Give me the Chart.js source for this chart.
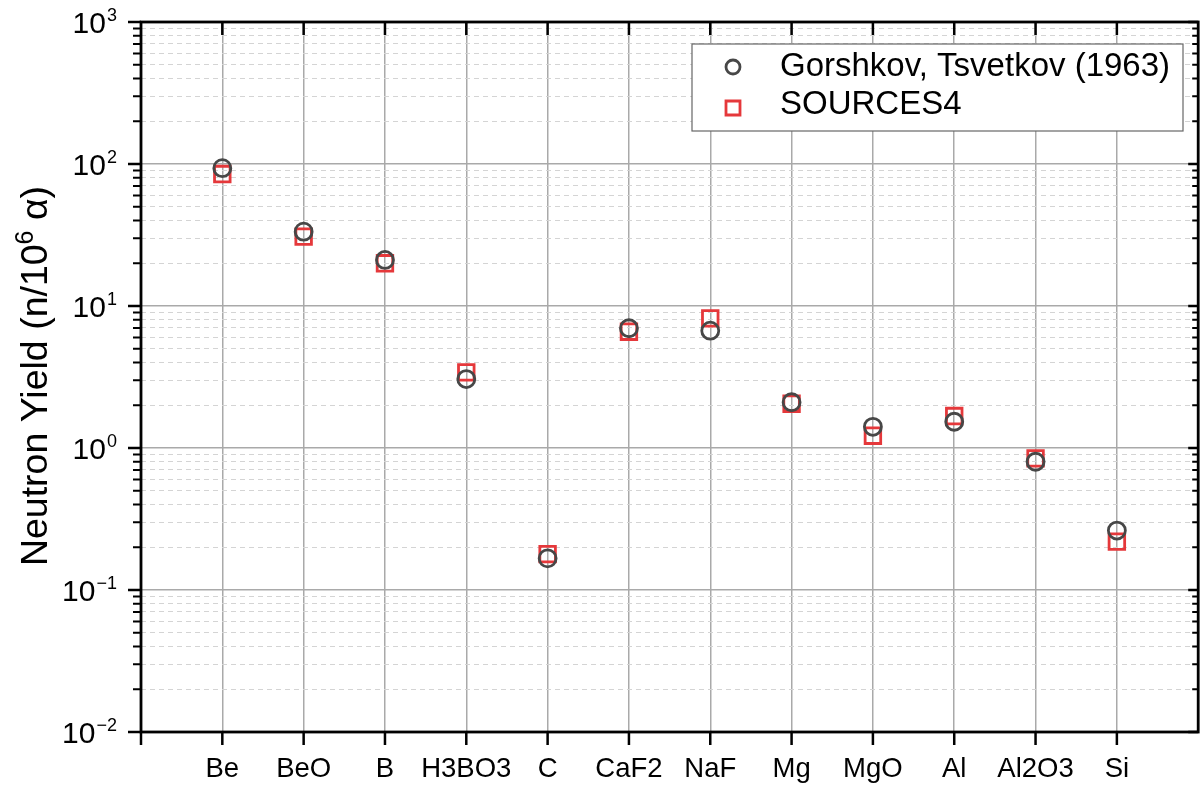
<!DOCTYPE html>
<html>
<head>
<meta charset="utf-8">
<title>Neutron Yield</title>
<script src="https://cdn.jsdelivr.net/npm/chart.js@4.4.1/dist/chart.umd.min.js"></script>
<style>
  html, body { margin: 0; padding: 0; background: #fff; overflow: hidden; }
  #wrap { width: 1212px; height: 787px; }
</style>
</head>
<body>
<div id="wrap"><canvas id="yieldChart" width="1212" height="787"></canvas></div>
<script>
const categories = ["Be", "BeO", "B", "H3BO3", "C", "CaF2", "NaF", "Mg", "MgO", "Al", "Al2O3", "Si"];
const gorshkovYield = [93.5, 33.4, 21.1, 3.06, 0.167, 6.97, 6.70, 2.10, 1.41, 1.53, 0.80, 0.262];
const sources4Yield = [85, 30.8, 20.0, 3.41, 0.179, 6.59, 8.19, 2.05, 1.22, 1.68, 0.846, 0.219];
const decadeTicks = [0.01, 0.1, 1, 10, 100, 1000];
const decadeExponents = ["\u22122", "\u22121", "0", "1", "2", "3"];

const FONT = "'Liberation Sans', Arial, Helvetica, sans-serif";

// 2..9 times each decade, for the dashed grid and the small axis ticks
const minorTicks = [];
decadeTicks.slice(0, -1).forEach((d) => {
  for (let m = 2; m <= 9; m++) minorTicks.push(d * m);
});

const toPoints = (values) => values.map((v, i) => ({ x: i + 1, y: v }));

const axisFrame = {
  id: "axisFrame",
  afterDraw(chart) {
    const { ctx, chartArea: a } = chart;
    const x = chart.scales.x;
    const y = chart.scales.y;

    ctx.save();
    ctx.strokeStyle = "#000";
    ctx.lineCap = "butt";

    // ticks along the y axes
    ctx.lineWidth = 2.5;
    decadeTicks.forEach((v) => {
      const py = y.getPixelForValue(v);
      ctx.beginPath();
      ctx.moveTo(a.left - 13, py); ctx.lineTo(a.left, py);
      ctx.moveTo(a.right - 10, py); ctx.lineTo(a.right, py);
      ctx.stroke();
    });
    ctx.lineWidth = 2;
    minorTicks.forEach((v) => {
      const py = y.getPixelForValue(v);
      ctx.beginPath();
      ctx.moveTo(a.left - 8, py); ctx.lineTo(a.left, py);
      ctx.moveTo(a.right - 6, py); ctx.lineTo(a.right, py);
      ctx.stroke();
    });

    // ticks along the x axes
    ctx.lineWidth = 2.5;
    for (let i = 0; i <= categories.length; i++) {
      const px = x.getPixelForValue(i);
      ctx.beginPath();
      ctx.moveTo(px, a.bottom); ctx.lineTo(px, a.bottom + 13);
      if (i > 0) { ctx.moveTo(px, a.top); ctx.lineTo(px, a.top + 13); }
      ctx.stroke();
    }

    // box around the plot
    ctx.lineWidth = 2.8;
    ctx.strokeRect(a.left, a.top, a.right - a.left, a.bottom - a.top);

    // y tick labels as 10 with a raised exponent
    ctx.fillStyle = "#000";
    ctx.textBaseline = "alphabetic";
    ctx.textAlign = "left";
    decadeTicks.forEach((v, i) => {
      const py = y.getPixelForValue(v);
      ctx.font = `18px ${FONT}`;
      const expW = ctx.measureText(decadeExponents[i]).width;
      ctx.font = `30px ${FONT}`;
      const baseW = ctx.measureText("10").width;
      const right = 117;
      ctx.fillText("10", right - expW - baseW - 1, py + 11);
      ctx.font = `18px ${FONT}`;
      ctx.fillText(decadeExponents[i], right - expW, py - 1);
    });

    // y axis title, rotated
    ctx.save();
    ctx.translate(47, 376);
    ctx.rotate(-Math.PI / 2);
    const partA = "Neutron Yield (n/10";
    const partB = "6";
    const partC = " \u03b1)";
    ctx.font = `37.5px ${FONT}`;
    const wA = ctx.measureText(partA).width;
    const wC = ctx.measureText(partC).width;
    ctx.font = `25px ${FONT}`;
    const wB = ctx.measureText(partB).width;
    let tx = -(wA + wB + wC) / 2;
    ctx.font = `37.5px ${FONT}`;
    ctx.fillText(partA, tx, 0);
    tx += wA;
    ctx.font = `25px ${FONT}`;
    ctx.fillText(partB, tx, -14);
    tx += wB;
    ctx.font = `37.5px ${FONT}`;
    ctx.fillText(partC, tx, 0);
    ctx.restore();

    // legend box
    const box = { left: 692, top: 44, right: 1183, bottom: 131 };
    ctx.fillStyle = "#fff";
    ctx.fillRect(box.left, box.top, box.right - box.left, box.bottom - box.top);
    ctx.strokeStyle = "#666";
    ctx.lineWidth = 1.2;
    ctx.strokeRect(box.left, box.top, box.right - box.left, box.bottom - box.top);

    const rows = [67, 108];
    chart.data.datasets.forEach((ds, i) => {
      const cy = rows[i];
      ctx.strokeStyle = ds.borderColor;
      ctx.lineWidth = ds.pointBorderWidth;
      ctx.beginPath();
      if (ds.pointStyle === "circle") {
        ctx.arc(733, cy, 7, 0, Math.PI * 2);
      } else {
        ctx.rect(733 - 7, cy - 7, 14, 14);
      }
      ctx.stroke();
      ctx.fillStyle = "#000";
      ctx.font = `33px ${FONT}`;
      ctx.fillText(ds.label, 780, cy + 9 + (i === 0 ? 0 : -3));
    });

    ctx.restore();
  }
};

new Chart(document.getElementById("yieldChart"), {
  type: "scatter",
  data: {
    datasets: [
      {
        label: "Gorshkov, Tsvetkov (1963)",
        data: toPoints(gorshkovYield),
        pointStyle: "circle",
        pointRadius: 8.5,
        pointBorderWidth: 2.8,
        borderColor: "#474747",
        backgroundColor: "rgba(0,0,0,0)"
      },
      {
        label: "SOURCES4",
        data: toPoints(sources4Yield),
        pointStyle: "rect",
        pointRadius: 11,
        pointBorderWidth: 2.8,
        borderColor: "#e5383b",
        backgroundColor: "rgba(0,0,0,0)"
      }
    ]
  },
  options: {
    responsive: false,
    animation: false,
    events: [],
    layout: { padding: { top: 22, right: 5, left: 0, bottom: 0 } },
    plugins: {
      legend: { display: false },
      tooltip: { enabled: false }
    },
    scales: {
      x: {
        type: "linear",
        position: "bottom",
        min: 0,
        max: categories.length + 1,
        afterBuildTicks: (scale) => {
          scale.ticks = categories.map((c, i) => ({ value: i + 1 }));
        },
        afterFit: (scale) => { scale.height = 55; },
        ticks: {
          autoSkip: false,
          maxRotation: 0,
          padding: 21,
          color: "#000",
          font: { family: FONT, size: 27.5 },
          callback: (v) => categories[v - 1] || ""
        },
        grid: { color: "#a9a9a9", lineWidth: 1.5, drawTicks: false },
        border: { display: false }
      },
      yMinor: {
        type: "logarithmic",
        position: "left",
        min: 0.01,
        max: 1000,
        afterBuildTicks: (scale) => {
          scale.ticks = minorTicks.map((v) => ({ value: v }));
        },
        afterFit: (scale) => { scale.width = 0; },
        ticks: { display: false },
        grid: { color: "#d4d4d4", lineWidth: 1, drawTicks: false },
        border: { display: false, dash: [5, 4] }
      },
      y: {
        type: "logarithmic",
        position: "left",
        min: 0.01,
        max: 1000,
        afterBuildTicks: (scale) => {
          scale.ticks = decadeTicks.map((v) => ({ value: v }));
        },
        afterFit: (scale) => { scale.width = 141; },
        ticks: { display: false },
        grid: { color: "#a9a9a9", lineWidth: 1.5, drawTicks: false },
        border: { display: false }
      }
    }
  },
  plugins: [axisFrame]
});
</script>
</body>
</html>
